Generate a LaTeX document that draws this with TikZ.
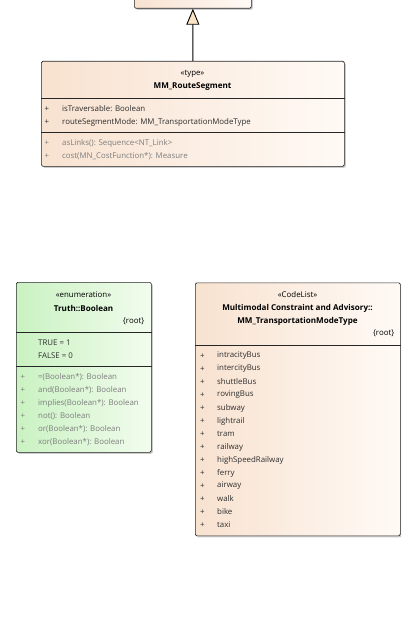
\documentclass[tikz,border=0pt]{standalone}
\usepackage{fontspec}
\setmainfont{Open Sans}
\usetikzlibrary{arrows.meta,shadows}

\definecolor{peachL}{RGB}{248,226,208}
\definecolor{peachR}{RGB}{255,250,246}
\definecolor{mintL}{RGB}{202,242,194}
\definecolor{mintR}{RGB}{242,252,238}
\definecolor{attrText}{RGB}{45,45,45}
\definecolor{operText}{RGB}{125,125,125}
\definecolor{tipFill}{RGB}{250,228,196}

\tikzset{
  classbox/.style={draw=black!85, line width=0.7bp, rounded corners=1.5bp,
    anchor=north west, inner sep=0pt,
    drop shadow={shadow xshift=1.5bp, shadow yshift=-1.5bp, fill=black!40, opacity=0.5}},
  peach/.style={left color=peachL, right color=peachR},
  mint/.style={left color=mintL, right color=mintR},
  compart/.style={draw=black!85, line width=0.7bp},
  stereo/.style={inner sep=0pt, font=\fontsize{7.9}{10}\selectfont},
  cname/.style={inner sep=0pt, font=\fontsize{8.1}{10}\selectfont\bfseries},
  tagval/.style={inner sep=0pt, anchor=east, font=\fontsize{7.9}{10}\selectfont},
  attr/.style={inner sep=0pt, anchor=west, text=attrText, font=\fontsize{7.9}{10}\selectfont},
  oper/.style={inner sep=0pt, anchor=west, text=operText, font=\fontsize{7.9}{10}\selectfont}
}

\begin{document}
\begin{tikzpicture}[x=1bp, y=-1bp]
  \useasboundingbox (0,0) rectangle (401,631);
  \clip (0,0) rectangle (401,631);

  % class boxes
  \node[classbox, peach, minimum width=117bp, minimum height=60bp] (base) at (134,-52) {};
  \node[classbox, peach, minimum width=303bp, minimum height=105bp] (seg) at (41,61) {};
  \node[classbox, mint, minimum width=135bp, minimum height=170bp] (bool) at (16,282) {};
  \node[classbox, peach, minimum width=205bp, minimum height=253bp] (modes) at (195,282.5) {};

  % generalisation
  \draw[-{Triangle[open, length=16bp, width=13bp, fill=tipFill]}, line width=0.9bp, black] (seg.north) -- (base.south);

  % MM_RouteSegment
  \node[stereo] (segStereo) at (192.5,73.5) {«type»};
  \node[cname] (segName) at (192.5,87) {MM\_RouteSegment};
  \draw[compart] (seg.west |- 0,98.5) -- (seg.east |- 0,98.5);
  \node[attr] (segP1) at (44.5,109) {+};
  \node[attr] (segA1) at (62,109) {isTraversable: Boolean};
  \node[attr] (segP2) at (44.5,122) {+};
  \node[attr] (segA2) at (62,122) {routeSegmentMode: MM\_TransportationModeType};
  \draw[compart] (seg.west |- 0,132.5) -- (seg.east |- 0,132.5);
  \node[oper] (segP3) at (44.5,143) {+};
  \node[oper] (segO1) at (62,143) {asLinks(): Sequence<NT\_Link>};
  \node[oper] (segP4) at (44.5,156) {+};
  \node[oper] (segO2) at (62,156) {cost(MN\_CostFunction*): Measure};

  % Truth::Boolean
  \node[stereo] (boolStereo) at (83.5,295) {«enumeration»};
  \node[cname] (boolName) at (83.5,308) {Truth::Boolean};
  \node[tagval] (boolTag) at (144.5,321) {\{root\}};
  \draw[compart] (bool.west |- 0,332) -- (bool.east |- 0,332);
  \node[attr] (boolLit1) at (38,343) {TRUE = 1};
  \node[attr] (boolLit2) at (38,356) {FALSE = 0};
  \draw[compart] (bool.west |- 0,366.5) -- (bool.east |- 0,366.5);
  \foreach \op [count=\i] in {=(Boolean*): Boolean, and(Boolean*): Boolean,
      implies(Boolean*): Boolean, not(): Boolean, or(Boolean*): Boolean, xor(Boolean*): Boolean} {
    \node[oper] (boolP\i) at (20.5,364+13*\i) {+};
    \node[oper] (boolOp\i) at (38,364+13*\i) {\op};
  }

  % MM_TransportationModeType
  \node[stereo] (modesStereo) at (297.5,295) {«CodeList»};
  \node[cname] (modesPkg) at (297.5,308) {Multimodal Constraint and Advisory::};
  \node[cname] (modesName) at (297.5,321) {MM\_TransportationModeType};
  \node[tagval] (modesTag) at (394.5,333) {\{root\}};
  \draw[compart] (modes.west |- 0,345) -- (modes.east |- 0,345);
  \foreach \mode [count=\i] in {intracityBus, intercityBus, shuttleBus, rovingBus, subway,
      lightrail, tram, railway, highSpeedRailway, ferry, airway, walk, bike, taxi} {
    \node[attr] (modesP\i) at (200,343+13*\i) {+};
    \node[attr] (modesLit\i) at (217,343+13*\i) {\mode};
  }
\end{tikzpicture}
\end{document}
